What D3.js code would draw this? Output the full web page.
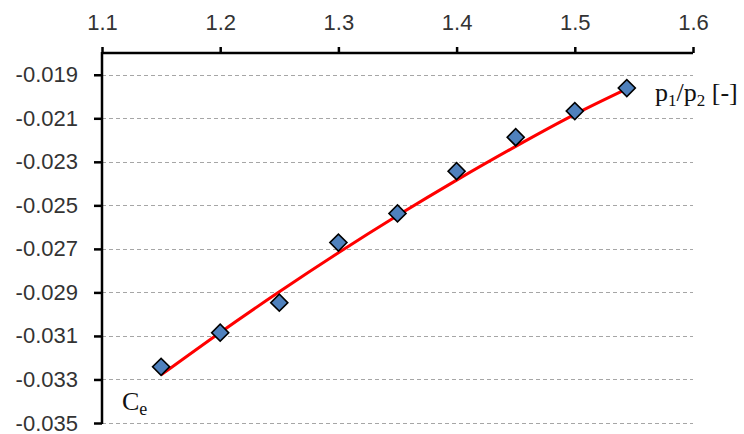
<!DOCTYPE html>
<html>
<head>
<meta charset="utf-8">
<script src="https://cdn.jsdelivr.net/npm/d3@7"></script>
<style>
  html, body { margin: 0; padding: 0; background: #fff; }
  svg { display: block; }
</style>
</head>
<body>
<svg id="chart" width="744" height="434"></svg>
<script>
// Pressure ratio p1/p2 and measured coefficient Ce
const pressureRatio = [1.15, 1.2, 1.25, 1.3, 1.35, 1.4, 1.45, 1.5, 1.544];
const ceMeasured = [-0.03242, -0.03085, -0.02947, -0.02671, -0.02537, -0.02343, -0.02187, -0.02067, -0.01961];
// Trend line through the measurements
const ceTrend = [-0.03279, -0.03084, -0.02897, -0.02718, -0.02547, -0.02384, -0.02229, -0.02082, -0.01965];

const xTicks = [1.1, 1.2, 1.3, 1.4, 1.5, 1.6];
const yTicks = [-0.035, -0.033, -0.031, -0.029, -0.027, -0.025, -0.023, -0.021, -0.019];

const svg = d3.select("#chart");
const plotLeft = 102, plotRight = 693, plotTop = 53, plotBottom = 423;

const x = d3.scaleLinear().domain([1.1, 1.6]).range([plotLeft, plotRight]);
const y = d3.scaleLinear().domain([-0.035, -0.018]).range([plotBottom, plotTop]);

const labelFont = "'Liberation Sans', Arial, sans-serif";

// Horizontal dashed gridlines
svg.append("g")
  .selectAll("line")
  .data(yTicks)
  .join("line")
  .attr("x1", plotLeft).attr("x2", plotRight)
  .attr("y1", d => Math.round(y(d)) + 0.5).attr("y2", d => Math.round(y(d)) + 0.5)
  .attr("stroke", "#a6a6a6")
  .attr("stroke-width", 1)
  .attr("stroke-dasharray", "4,3");

// Fitted curve
const line = d3.line()
  .x((d, i) => x(pressureRatio[i]))
  .y(d => y(d))
  .curve(d3.curveNatural);

svg.append("path")
  .datum(ceTrend)
  .attr("d", line)
  .attr("fill", "none")
  .attr("stroke", "#ff0000")
  .attr("stroke-width", 3);

// Measured points as diamonds
const diamond = d3.symbol().type(d3.symbolSquare).size(145);
svg.append("g")
  .selectAll("path")
  .data(ceMeasured)
  .join("path")
  .attr("d", diamond)
  .attr("transform", (d, i) => `translate(${x(pressureRatio[i])},${y(d)}) rotate(45)`)
  .attr("fill", "#4f81bd")
  .attr("stroke", "#000")
  .attr("stroke-width", 1.6);

// Top x axis
const xAxis = d3.axisTop(x).tickValues(xTicks).tickSize(6).tickPadding(17)
  .tickFormat(d3.format(".1f"));
const gx = svg.append("g").attr("transform", `translate(0,${plotTop})`).call(xAxis);
gx.select(".domain").attr("stroke", "#000").attr("stroke-width", 2.5)
  .attr("d", `M${plotLeft},0H${plotRight}`);
gx.selectAll(".tick line").attr("stroke", "#000").attr("stroke-width", 2.5);
gx.selectAll(".tick text")
  .attr("font-family", labelFont).attr("font-size", 22).attr("fill", "#333");

// Left y axis
const yAxis = d3.axisLeft(y).tickValues(yTicks).tickSize(8).tickPadding(16)
  .tickFormat(d => d3.format(".3f")(d).replace("−", "-"));
const gy = svg.append("g").attr("transform", `translate(${plotLeft},0)`).call(yAxis);
gy.select(".domain").attr("stroke", "#000").attr("stroke-width", 2.5)
  .attr("d", `M0,${plotTop - 1}V${plotBottom + 1}`);
gy.selectAll(".tick line").attr("stroke", "#000").attr("stroke-width", 2.5);
gy.selectAll(".tick text")
  .attr("font-family", labelFont).attr("font-size", 22).attr("fill", "#333");

// Axis titles
const serif = "'Liberation Serif', 'Times New Roman', serif";
svg.append("rect").attr("x", 638).attr("y", 78).attr("width", 106).attr("height", 32).attr("fill", "#fff");
const xt = svg.append("text").attr("x", 655).attr("y", 101)
  .attr("font-family", serif).attr("font-size", 26).attr("fill", "#111");
xt.append("tspan").text("p");
xt.append("tspan").attr("font-size", 17).attr("dy", 5).text("1");
xt.append("tspan").attr("dy", -5).text("/p");
xt.append("tspan").attr("font-size", 17).attr("dy", 5).text("2");
xt.append("tspan").attr("dy", -5).text(" [-]");

const yt = svg.append("text").attr("x", 122).attr("y", 410)
  .attr("font-family", serif).attr("font-size", 26).attr("fill", "#111");
yt.append("tspan").text("C");
yt.append("tspan").attr("font-size", 18).attr("dy", 5).text("e");
</script>
</body>
</html>
